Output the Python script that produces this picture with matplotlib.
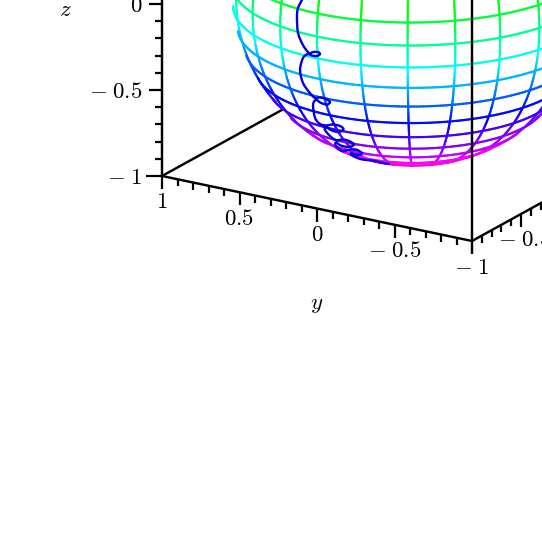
import numpy as np
import matplotlib
matplotlib.use('Agg')
import matplotlib.pyplot as plt
from matplotlib.collections import LineCollection
from matplotlib.colors import hsv_to_rgb
from matplotlib.patches import Circle, PathPatch
from matplotlib.path import Path

plt.rcParams['mathtext.fontset'] = 'cm'

# view of the unit box: screen right and screen up of the x, y, z directions
right = np.array([98., -155., 0.]) / 183
up = np.array([54., 32.5, 172.]) / 183
toward = np.cross(right, up)

# sphere grid, degrees
lats = np.arange(-82.5, 90, 7.5)
lons = np.arange(0, 360, 15)

# ticks that have a label inside the picture
z_major = [-1, -0.5, 0]
y_major = [1, 0.5, 0, -0.5, -1]
x_major = [-0.5]
minor_step = 0.1

# curve on the sphere, read in view-plane units (a to the right, b upwards)
curve_a = [-.612, -.639, -.645, -.639, -.612, -.579, -.557, -.530, -.519, -.536, -.563, -.585,
           -.612, -.628, -.612, -.574, -.546, -.519, -.486, -.464, -.481, -.514, -.541,
           -.557, -.546, -.519, -.486, -.448, -.410, -.391, -.415, -.454, -.486,
           -.492, -.464, -.432, -.393, -.361, -.333, -.361, -.404, -.432,
           -.432, -.399, -.361, -.322, -.290, -.311, -.350,
           -.344, -.301, -.262, -.219, -.175, -.137]
curve_b = [-.085, -.139, -.189, -.276, -.342, -.385, -.380, -.380, -.391, -.402, -.399, -.391,
           -.413, -.478, -.549, -.604, -.631, -.628, -.637, -.653, -.667, -.658, -.642,
           -.669, -.740, -.773, -.781, -.776, -.784, -.801, -.817, -.809, -.790,
           -.806, -.839, -.861, -.858, -.866, -.885, -.899, -.891, -.874,
           -.893, -.921, -.915, -.913, -.932, -.943, -.932,
           -.945, -.964, -.970, -.975, -.986, -.992]


def project(x, y, z):
    x, y, z = np.asarray(x, float), np.asarray(y, float), np.asarray(z, float)
    return (right[0]*x + right[1]*y + right[2]*z,
            up[0]*x + up[1]*y + up[2]*z)


def zhue(z):
    hue = (155 - 165*np.asarray(z)) % 360 / 360
    hsv = np.stack([hue, np.ones_like(hue), np.ones_like(hue)], axis=-1)
    return hsv_to_rgb(hsv)


def sphere_line(lat, lon):
    # cuts a grid line into coloured segments, the far side of the sphere is dropped
    # a small margin lets the lines wrap the limb so the outline reads as in the original
    x = np.cos(lat)*np.cos(lon)
    y = np.cos(lat)*np.sin(lon)
    z = np.sin(lat)
    a, b = project(x, y, z)
    pts = np.column_stack([a, b])
    segs = np.stack([pts[:-1], pts[1:]], axis=1)
    front = toward[0]*x + toward[1]*y + toward[2]*z > -0.06
    keep = front[:-1] & front[1:]
    return segs[keep], zhue((z[:-1] + z[1:])/2)[keep]


def smooth_path(a, b):
    # bezier through the read points so the loops stay round
    p = np.column_stack([a, b])
    p = np.vstack([p[0], p, p[-1]])
    verts = [p[1]]
    codes = [Path.MOVETO]
    for i in range(1, len(p) - 2):
        verts += [p[i] + (p[i+1] - p[i-1])/6, p[i+1] - (p[i+2] - p[i])/6, p[i+1]]
        codes += [Path.CURVE4]*3
    return Path(verts, codes)


def edge(ax, p0, p1, zorder):
    a, b = project(*zip(p0, p1))
    ax.plot(a, b, color='k', lw=1.75, solid_capstyle='round', zorder=zorder)


def tick(ax, p, da, db, length):
    a, b = project(*p)
    ax.plot([a, a + da*length], [b, b + db*length], color='k', lw=1.6,
            solid_capstyle='butt', zorder=6)


fig = plt.figure(figsize=(5.42, 5.42), dpi=100)
ax = fig.add_axes([0, 0, 1, 1])
ax.set_xlim(-415/183, 127/183)
ax.set_ylim((-17.5 - 542)/183, -17.5/183)
ax.axis('off')

# box edges behind the sphere
edge(ax, (-1, 1, -1), (1, 1, -1), 1)
edge(ax, (1, 1, -1), (1, -1, -1), 1)
ax.add_patch(Circle((0, 0), 1.0, facecolor='w', edgecolor='none', zorder=2))

# sphere grid
t = np.linspace(-np.pi/2, np.pi/2, 181)
all_segs, all_cols = [], []
for lon in lons:
    s, c = sphere_line(t, np.full_like(t, np.radians(lon)))
    all_segs.append(s)
    all_cols.append(c)
t = np.linspace(0, 2*np.pi, 361)
for lat in lats:
    s, c = sphere_line(np.full_like(t, np.radians(lat)), t)
    all_segs.append(s)
    all_cols.append(c)
ax.add_collection(LineCollection(np.concatenate(all_segs), colors=np.concatenate(all_cols),
                                 linewidths=1.6, capstyle='round', zorder=3))

ax.add_patch(PathPatch(smooth_path(curve_a, curve_b), facecolor='none', edgecolor='#0000dd',
                       lw=1.7, joinstyle='round', zorder=4))

# box edges in front
edge(ax, (-1, 1, -1), (-1, 1, 1), 5)
edge(ax, (-1, -1, -1), (-1, -1, 1), 5)
edge(ax, (-1, 1, -1), (-1, -1, -1), 5)
edge(ax, (-1, -1, -1), (1, -1, -1), 5)

major_len = 13/183
minor_len = 7/183
fs = 16.5


def label(a, b, dx, dy, text, ha='center'):
    ax.annotate(text, (a, b), xytext=(dx*0.72, -dy*0.72), textcoords='offset points',
                ha=ha, va='center', fontsize=fs, annotation_clip=False, zorder=7)


def tick_text(v):
    if v == 0:
        return r'$0$'
    if v < 0:
        return r'$-\;%g$' % abs(v)
    return r'$%g$' % v


for v in np.arange(-10, 11):
    v = v*minor_step
    is_major = abs(v*2 - round(v*2)) < 1e-9
    n = major_len if is_major else minor_len
    tick(ax, (-1, 1, v), -1, 0, n if v > -0.95 else 16/183)
    tick(ax, (-1, v, -1), 0, -1, n)
    tick(ax, (v, -1, -1), 0, -1, n)

for v in z_major:
    a, b = project(-1, 1, v)
    label(a, b, -20, 1, tick_text(v), ha='right')
for v in y_major:
    a, b = project(-1, v, -1)
    label(a, b, 0, 26, tick_text(v))
for v in x_major:
    a, b = project(v, -1, -1)
    label(a, b, 3.5, 26, tick_text(v))

a, b = project(-1, 1, 0)
label(a, b, -97, 6, r'$z$')
a, b = project(-1, 0, -1)
label(a, b, 0, 95, r'$y$')

fig.savefig('out.png', dpi=100, facecolor='w')
